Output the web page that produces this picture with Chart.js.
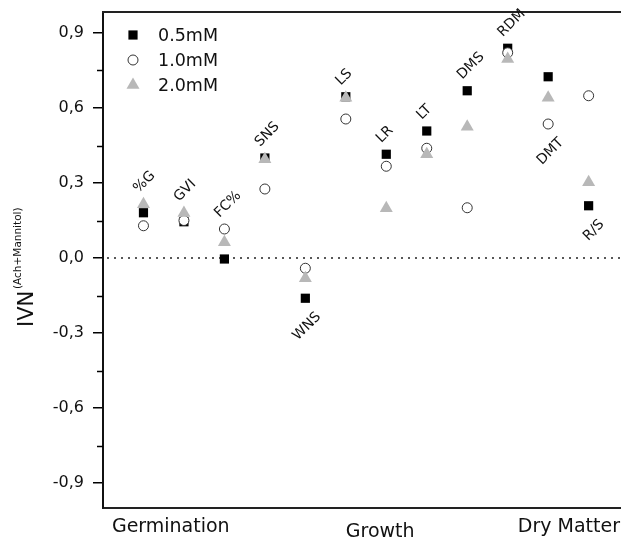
<!DOCTYPE html>
<html>
<head>
<meta charset="utf-8">
<script src="https://cdn.jsdelivr.net/npm/chart.js@4/dist/chart.umd.min.js"></script>
<style>
  html, body { margin: 0; padding: 0; background: #fff; }
  #wrap { width: 621px; height: 541px; }
</style>
</head>
<body>
<div id="wrap"><canvas id="ivnChart" width="621" height="541"></canvas></div>
<script>
// Indicators (x = 1..12)
const categories = ['%G', 'GVI', 'FC%', 'SNS', 'WNS', 'LS', 'LR', 'LT', 'DMS', 'RDM', 'DMT', 'R/S'];
// label goes above or below the group of points
const labelSide = ['above', 'above', 'above', 'above', 'below', 'above', 'above', 'above', 'above', 'above', 'below', 'below'];

const seriesNames = ['0.5mM', '1.0mM', '2.0mM'];
const values05 = [0.181, 0.145, -0.004, 0.400, -0.161, 0.645, 0.415, 0.508, 0.669, 0.839, 0.725, 0.209];
const values10 = [0.129, 0.150, 0.116, 0.276, -0.041, 0.556, 0.367, 0.439, 0.201, 0.821, 0.536, 0.649];
const values20 = [0.215, 0.180, 0.063, 0.395, -0.081, 0.641, 0.199, 0.415, 0.525, 0.796, 0.641, 0.303];

const groupNames = ['Germination', 'Growth', 'Dry Matter'];
const yTickValues = [-0.9, -0.6, -0.3, 0, 0.3, 0.6, 0.9];

const FONT = "'DejaVu Sans', sans-serif";

function toPoints(vals) {
  return vals.map((v, i) => ({ x: i + 1, y: v }));
}

const seriesStyle = [
  { pointStyle: 'rect', radius: 6.5, bg: '#000000', border: '#000000', bw: 0, order: 3 },
  { pointStyle: 'circle', radius: 5, bg: '#ffffff', border: '#333333', bw: 1, order: 2 },
  { pointStyle: 'triangle', radius: 7.5, bg: '#b8b8b8', border: '#b8b8b8', bw: 0, order: 1 }
];
const seriesValues = [values05, values10, values20];

const datasets = seriesNames.map((name, k) => ({
  label: name,
  data: toPoints(seriesValues[k]),
  showLine: false,
  pointStyle: seriesStyle[k].pointStyle,
  pointRadius: seriesStyle[k].radius,
  pointHoverRadius: seriesStyle[k].radius,
  pointBackgroundColor: seriesStyle[k].bg,
  pointBorderColor: seriesStyle[k].border,
  pointBorderWidth: seriesStyle[k].bw,
  order: seriesStyle[k].order
}));

// frame, zero line, minor ticks, annotations, legend and y title
const decorPlugin = {
  id: 'decor',
  beforeDatasetsDraw(chart) {
    const { ctx, chartArea: a, scales: { y } } = chart;
    ctx.save();
    // dotted zero line
    const y0 = y.getPixelForValue(0);
    ctx.strokeStyle = '#222';
    ctx.lineWidth = 1.5;
    ctx.setLineDash([2, 5]);
    ctx.beginPath();
    ctx.moveTo(a.left + 4, y0);
    ctx.lineTo(a.right, y0);
    ctx.stroke();
    ctx.setLineDash([]);
    // top frame line
    ctx.strokeStyle = '#222';
    ctx.lineWidth = 2;
    ctx.beginPath();
    ctx.moveTo(a.left - 1, a.top);
    ctx.lineTo(a.right, a.top);
    ctx.stroke();
    // minor ticks halfway between majors
    ctx.strokeStyle = '#000';
    ctx.lineWidth = 1.5;
    for (let i = 0; i < yTickValues.length; i++) {
      const vals = [yTickValues[i] - 0.15];
      if (i === yTickValues.length - 1) vals.push(yTickValues[i] + 0.15);
      vals.forEach(v => {
        if (v < y.min || v > y.max) return;
        const py = Math.round(y.getPixelForValue(v)) + 0.5;
        ctx.beginPath();
        ctx.moveTo(a.left - 6, py);
        ctx.lineTo(a.left, py);
        ctx.stroke();
      });
    }
    ctx.restore();
  },
  afterDatasetsDraw(chart) {
    const { ctx, chartArea: a, scales: { x, y } } = chart;
    ctx.save();
    ctx.fillStyle = '#111';

    // rotated indicator labels
    ctx.font = '14px ' + FONT;
    ctx.textBaseline = 'alphabetic';
    categories.forEach((name, i) => {
      const px = x.getPixelForValue(i + 1);
      const vals = seriesValues.map(s => s[i]);
      if (labelSide[i] === 'above') {
        const top = y.getPixelForValue(Math.max(...vals)) - 5;
        ctx.save();
        ctx.translate(px - 5, top - 6);
        ctx.rotate(-Math.PI / 4);
        ctx.textAlign = 'left';
        ctx.fillText(name, 0, 0);
        ctx.restore();
      } else {
        const bottom = y.getPixelForValue(Math.min(...vals)) + 5;
        ctx.save();
        ctx.translate(px + 16, bottom + 14);
        ctx.rotate(-Math.PI / 4);
        ctx.textAlign = 'right';
        ctx.fillText(name, 0, 0);
        ctx.restore();
      }
    });

    // group names under the axis
    ctx.font = '19px ' + FONT;
    ctx.textAlign = 'left';
    ctx.fillText(groupNames[0], x.getPixelForValue(0.22), a.bottom + 24);
    ctx.fillText(groupNames[1], x.getPixelForValue(6.0), a.bottom + 29);
    ctx.fillText(groupNames[2], x.getPixelForValue(10.25), a.bottom + 24);

    // legend inside the plot
    ctx.font = '17.5px ' + FONT;
    ctx.textBaseline = 'middle';
    seriesNames.forEach((name, k) => {
      const ly = a.top + 23 + k * 25;
      const lx = a.left + 30;
      const st = seriesStyle[k];
      ctx.fillStyle = st.bg;
      ctx.strokeStyle = st.border;
      ctx.lineWidth = st.bw;
      if (Chart.helpers && Chart.helpers.drawPoint) {
        Chart.helpers.drawPoint(ctx, { pointStyle: st.pointStyle, radius: st.radius, rotation: 0, borderWidth: st.bw }, lx, ly);
      }
      ctx.fillStyle = '#111';
      ctx.fillText(name, lx + 25, ly + 1);
    });

    // y axis title with superscript
    ctx.save();
    ctx.translate(33, 327);
    ctx.rotate(-Math.PI / 2);
    ctx.textAlign = 'left';
    ctx.textBaseline = 'alphabetic';
    ctx.font = '21px ' + FONT;
    ctx.fillText('IVN', 0, 0);
    ctx.restore();
    ctx.save();
    ctx.translate(21, 289);
    ctx.rotate(-Math.PI / 2);
    ctx.textAlign = 'left';
    ctx.textBaseline = 'alphabetic';
    ctx.font = '10.5px ' + FONT;
    ctx.fillText('(Ach+Mannitol)', 0, 0);
    ctx.restore();

    ctx.restore();
  }
};

new Chart(document.getElementById('ivnChart'), {
  type: 'scatter',
  data: { datasets },
  options: {
    responsive: false,
    animation: false,
    layout: { autoPadding: false, padding: { top: 12, right: 0, left: 0, bottom: 0 } },
    plugins: {
      legend: { display: false },
      tooltip: { enabled: false }
    },
    scales: {
      x: {
        type: 'linear',
        min: 0,
        max: 12.8,
        grid: { display: false, drawTicks: false },
        border: { display: true, color: '#222', width: 2 },
        ticks: { display: false },
        afterFit(scale) {
          scale.height = 33;
          scale.paddingLeft = 0;
          scale.paddingRight = 0;
        }
      },
      y: {
        min: -1.0,
        max: 0.984,
        afterBuildTicks(scale) {
          scale.ticks = yTickValues.map(v => ({ value: v }));
        },
        grid: { display: true, drawOnChartArea: false, drawTicks: true, tickLength: 10, color: '#000', lineWidth: 1.5 },
        border: { display: true, color: '#111', width: 2 },
        ticks: {
          padding: 9,
          color: '#111',
          font: { family: FONT, size: 16 },
          callback: v => v.toFixed(1).replace('.', ',')
        },
        afterFit(scale) {
          scale.width = 103;
          scale.paddingTop = 0;
          scale.paddingBottom = 0;
        }
      }
    }
  },
  plugins: [decorPlugin]
});
</script>
</body>
</html>
